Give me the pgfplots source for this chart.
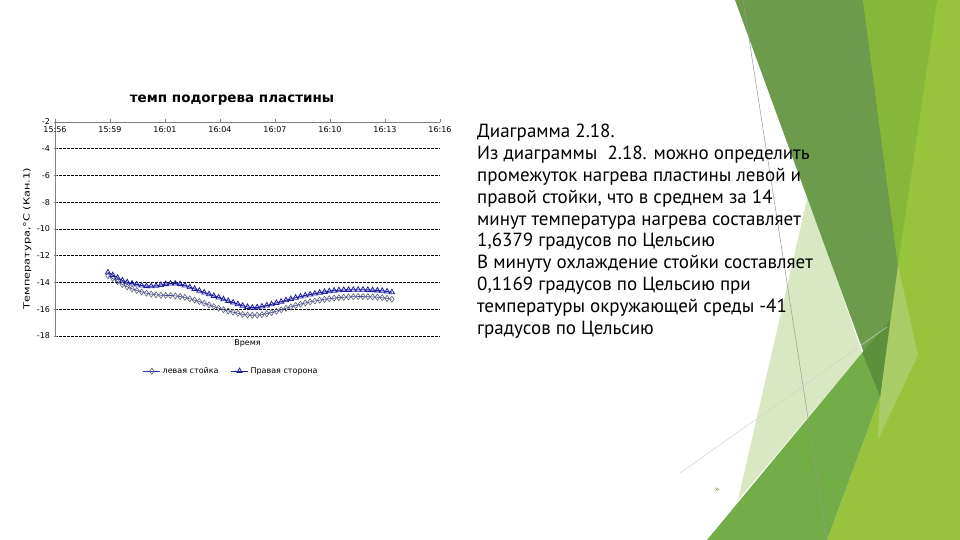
\documentclass[border=0pt]{standalone}
\usepackage{fontspec}
\usepackage{graphicx}
\usepackage{pgfplots}
\usepackage{pgfplotstable}
\pgfplotsset{compat=1.18}
\setmainfont{DejaVu Sans}
\newfontfamily\bodyfont{PT Sans}
\definecolor{darkband}{HTML}{6C9B4C}
\definecolor{midband}{HTML}{86B73A}
\definecolor{limeband}{HTML}{97C43C}
\definecolor{lowband}{HTML}{72AD48}
\definecolor{paleband}{HTML}{D9E8C2}
\definecolor{lightwedge}{HTML}{A8CD66}
\definecolor{darktip}{HTML}{5C903A}
\definecolor{rightblue}{HTML}{1E1EA0}
\definecolor{leftgray}{HTML}{5A5F75}
\definecolor{leftline}{HTML}{3A3AB0}

\pgfplotstableread{
t v
2.75 -13.25
3.00 -13.45
3.25 -13.65
3.50 -13.85
3.75 -13.98
4.00 -14.08
4.25 -14.15
4.50 -14.22
4.75 -14.27
5.00 -14.28
5.25 -14.25
5.50 -14.18
5.75 -14.12
6.00 -14.08
6.25 -14.08
6.50 -14.12
6.75 -14.22
7.00 -14.35
7.25 -14.48
7.50 -14.62
7.75 -14.75
8.00 -14.88
8.25 -15.00
8.50 -15.12
8.75 -15.25
9.00 -15.38
9.25 -15.50
9.50 -15.62
9.75 -15.74
10.00 -15.83
10.25 -15.88
10.50 -15.86
10.75 -15.80
11.00 -15.72
11.25 -15.63
11.50 -15.53
11.75 -15.43
12.00 -15.33
12.25 -15.23
12.50 -15.14
12.75 -15.05
13.00 -14.97
13.25 -14.90
13.50 -14.83
13.75 -14.76
14.00 -14.70
14.25 -14.65
14.50 -14.61
14.75 -14.58
15.00 -14.56
15.25 -14.55
15.50 -14.54
15.75 -14.54
16.00 -14.54
16.25 -14.55
16.50 -14.57
16.75 -14.59
17.00 -14.62
17.25 -14.67
17.50 -14.73
}\rightside

\pgfplotstableread{
t v
2.75 -13.50
3.00 -13.70
3.25 -13.95
3.50 -14.15
3.75 -14.32
4.00 -14.47
4.25 -14.60
4.50 -14.70
4.75 -14.80
5.00 -14.87
5.25 -14.92
5.50 -14.95
5.75 -14.97
6.00 -14.97
6.25 -15.00
6.50 -15.05
6.75 -15.12
7.00 -15.22
7.25 -15.32
7.50 -15.42
7.75 -15.55
8.00 -15.68
8.25 -15.80
8.50 -15.92
8.75 -16.03
9.00 -16.13
9.25 -16.22
9.50 -16.30
9.75 -16.38
10.00 -16.43
10.25 -16.45
10.50 -16.44
10.75 -16.40
11.00 -16.33
11.25 -16.25
11.50 -16.15
11.75 -16.04
12.00 -15.93
12.25 -15.82
12.50 -15.72
12.75 -15.62
13.00 -15.53
13.25 -15.45
13.50 -15.38
13.75 -15.32
14.00 -15.26
14.25 -15.21
14.50 -15.17
14.75 -15.13
15.00 -15.10
15.25 -15.08
15.50 -15.06
15.75 -15.05
16.00 -15.05
16.25 -15.06
16.50 -15.08
16.75 -15.10
17.00 -15.14
17.25 -15.19
17.50 -15.25
}\leftside

\begin{document}
\begin{tikzpicture}
\begin{scope}[x=1pt,y=1pt]
\path[use as bounding box, fill=white] (0,0) rectangle (960,540);
% slide decoration (theme shapes)
\fill[limeband] (860,540) -- (960,540) -- (960,0) -- (827,0) -- (880,143) -- cycle;
\fill[paleband] (808,345) -- (738,40) -- (862,187) -- cycle;
\fill[lowband] (707,0) -- (862,187) -- (880,143) -- (827,0) -- cycle;
\fill[lightwedge] (898,275) -- (918,185) -- (878,100) -- (880,143) -- cycle;
\fill[darkband] (735,540) -- (863,540) -- (898,275) -- (880,143) -- cycle;
\fill[midband] (863,540) -- (937,540) -- (898,275) -- cycle;
\fill[darktip] (862,187) -- (890,220) -- (880,143) -- cycle;
\draw[gray!80, line width=0.5pt] (743,540) -- (827,0);
\draw[gray!35, line width=0.5pt] (680,67) -- (887,213);
\node[text=limeband!80!black, font=\fontsize{9}{9}\selectfont] at (717,50) {»};

% slide text
\begin{scope}[every node/.style={anchor=base west, inner sep=0pt, font=\bodyfont\fontsize{19}{19}\selectfont}]
\node at (477,402) {Диаграмма 2.18.};
\node at (477,380.2) {Из диаграммы\ \ 2.18. можно определить};
\node at (477,358.4) {промежуток нагрева пластины левой и};
\node at (477,336.6) {правой стойки, что в среднем за 14};
\node at (477,314.8) {минут температура нагрева составляет};
\node at (477,293) {1,6379 градусов по Цельсию};
\node at (477,271.2) {В минуту охлаждение стойки составляет};
\node at (477,249.4) {0,1169 градусов по Цельсию при};
\node at (477,227.6) {температуры окружающей среды -41};
\node at (477,205.8) {градусов по Цельсию};
\end{scope}

% chart title
\node[font=\bfseries\fontsize{13.5}{14}\selectfont] at (232,440) {темп подогрева пластины};
\end{scope}

\begin{axis}[
  at={(55pt,204pt)}, anchor=south west,
  width=385pt, height=214pt, scale only axis,
  xmin=0, xmax=20, ymin=-18, ymax=-2,
  axis x line*=top, axis y line*=left,
  axis line style={gray, line width=0.8pt},
  xtick={0,2.857,5.714,8.571,11.429,14.286,17.143,20},
  xticklabels={15:56,15:59,16:01,16:04,16:07,16:10,16:13,16:16},
  xticklabel style={anchor=north, yshift=-4pt, font=\fontsize{8}{9}\selectfont},
  x tick style={gray, line width=0.6pt},
  xtick align=outside,
  major tick length=3pt,
  ytick={-18,-16,-14,-12,-10,-8,-6,-4},
  yticklabels={-18,-16,-14,-12,-10,-8,-6,-4},
  extra y ticks={-2}, extra y tick labels={-2},
  extra y tick style={grid=none},
  yticklabel style={font=\fontsize{8}{9}\selectfont},
  y tick style={gray, line width=0.6pt},
  ytick align=center,
  ymajorgrids,
  major grid style={black, dashed, line width=0.6pt, dash pattern=on 2.5pt off 1.5pt},
  ylabel={\scalebox{1.33}[1]{Температура,°C (Кан.1)}},
  ylabel style={at={(axis description cs:-0.072,0.455)}, anchor=center, font=\fontsize{8.5}{9}\selectfont},
  legend style={at={(axis description cs:0.458,-0.164)}, anchor=center, draw=none, fill=none,
    legend columns=2, font=\fontsize{8}{9}\selectfont,
    /tikz/every even column/.append style={column sep=10pt}},
  legend cell align=left,
  clip=false,
]
\addplot[leftline, line width=0.6pt, mark=diamond, mark size=3pt, mark options={draw=leftgray, fill=white, line width=0.6pt, solid}] table[x=t,y=v] {\leftside};
\addlegendentry{левая стойка}
\addplot[rightblue, line width=0.9pt, mark=triangle, mark size=3pt, mark options={draw=rightblue, fill=white, line width=0.8pt, solid}] table[x=t,y=v] {\rightside};
\addlegendentry{Правая сторона}
\node[font=\fontsize{8}{9}\selectfont] at (axis description cs:0.5,-0.035) {Время};
\end{axis}
\end{tikzpicture}
\end{document}
